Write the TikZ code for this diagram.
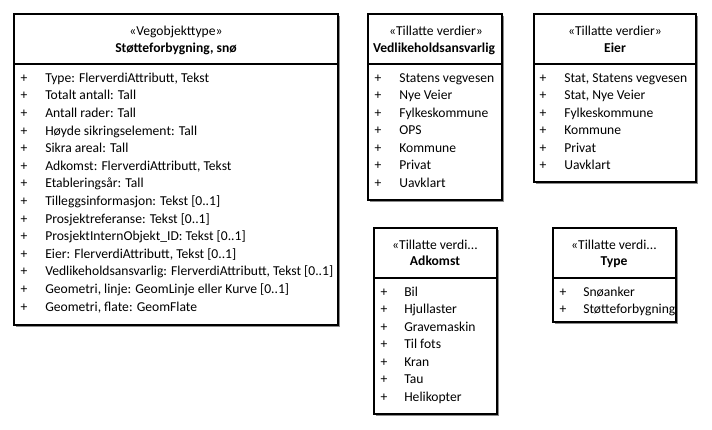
\documentclass[tikz,border=0pt]{standalone}
\usepackage{fontspec}
\setmainfont{Carlito}

\begin{document}
\begin{tikzpicture}[x=0.75pt,y=-0.75pt,
    box/.style={draw=black,fill=white,line width=0.8pt},
    shadow/.style={fill=black!45},
    txt/.style={inner sep=0pt,text height=7pt,text depth=2pt,font=\fontsize{10.2}{12}\selectfont},
    stereo/.style={txt},
    title/.style={txt,font=\fontsize{10.2}{12}\selectfont\bfseries},
    plus/.style={txt},
    entry/.style={txt,anchor=west}]
        \useasboundingbox (0,0) rectangle (712,429);

        % Vegobjekttype
        \fill[shadow] (15.5,15.5) rectangle (339.5,326.5);
        \draw[box] (14,14) rectangle (338,325);
        \draw[line width=0.8pt] (14,64) -- (338,64);
        \node[stereo] (vegtype) at (176,32) {«Vegobjekttype»};
        \node[title] (vegnavn) at (176,49) {Støtteforbygning, snø};
        \foreach \t [count=\i] in {{Type: FlerverdiAttributt, Tekst}, {Totalt antall: Tall},
            {Antall rader: Tall}, {Høyde sikringselement: Tall}, {Sikra areal: Tall},
            {Adkomst: FlerverdiAttributt, Tekst}, {Etableringsår: Tall},
            {Tilleggsinformasjon: Tekst [0..1]}, {Prosjektreferanse: Tekst [0..1]},
            {ProsjektInternObjekt\_ID: Tekst [0..1]}, {Eier: FlerverdiAttributt, Tekst [0..1]},
            {Vedlikeholdsansvarlig: FlerverdiAttributt, Tekst [0..1]},
            {Geometri, linje: GeomLinje eller Kurve [0..1]}, {Geometri, flate: GeomFlate}} {
            \node[plus] (vp\i) at (24,{79+17.6*(\i-1)}) {+};
            \node[entry] (va\i) at (45,{79+17.6*(\i-1)}) {\t};
        }

        % Vedlikeholdsansvarlig
        \fill[shadow] (369.5,15.5) rectangle (503.5,201.5);
        \draw[box] (368,14) rectangle (502,200);
        \draw[line width=0.8pt] (368,64) -- (502,64);
        \node[stereo] (vedtype) at (436,32) {«Tillatte verdier»};
        \node[title] (vednavn) at (434,49) {Vedlikeholdsansvarlig};
        \foreach \t [count=\i] in {Statens vegvesen, Nye Veier, Fylkeskommune, OPS,
            Kommune, Privat, Uavklart} {
            \node[plus] (dp\i) at (378,{79+17.5*(\i-1)}) {+};
            \node[entry] (da\i) at (399,{79+17.5*(\i-1)}) {\t};
        }

        % Eier
        \fill[shadow] (535.5,15.5) rectangle (697.5,183.5);
        \draw[box] (534,14) rectangle (696,182);
        \draw[line width=0.8pt] (534,64) -- (696,64);
        \node[stereo] (eiertype) at (615,32) {«Tillatte verdier»};
        \node[title] (eiernavn) at (615,49) {Eier};
        \foreach \t [count=\i] in {{Stat, Statens vegvesen}, {Stat, Nye Veier},
            Fylkeskommune, Kommune, Privat, Uavklart} {
            \node[plus] (ep\i) at (543,{79+17.5*(\i-1)}) {+};
            \node[entry] (ea\i) at (564,{79+17.5*(\i-1)}) {\t};
        }

        % Adkomst
        \fill[shadow] (375.5,229.5) rectangle (498.5,415.5);
        \draw[box] (374,228) rectangle (497,414);
        \draw[line width=0.8pt] (374,278) -- (497,278);
        \node[stereo] (adktype) at (435,246) {«Tillatte verdi...};
        \node[title] (adknavn) at (435,262) {Adkomst};
        \foreach \t [count=\i] in {Bil, Hjullaster, Gravemaskin, Til fots, Kran, Tau,
            Helikopter} {
            \node[plus] (ap\i) at (384,{293+17.5*(\i-1)}) {+};
            \node[entry] (aa\i) at (404,{293+17.5*(\i-1)}) {\t};
        }

        % Type
        \fill[shadow] (554.5,229.5) rectangle (677.5,323.5);
        \draw[box] (553,228) rectangle (676,322);
        \draw[line width=0.8pt] (553,278) -- (676,278);
        \node[stereo] (typtype) at (614,246) {«Tillatte verdi...};
        \node[title] (typnavn) at (614,262) {Type};
        \foreach \t [count=\i] in {Snøanker, Støtteforbygning} {
            \node[plus] (tp\i) at (563,{293+17.5*(\i-1)}) {+};
            \node[entry] (ta\i) at (583,{293+17.5*(\i-1)}) {\t};
        }
\end{tikzpicture}
\end{document}
